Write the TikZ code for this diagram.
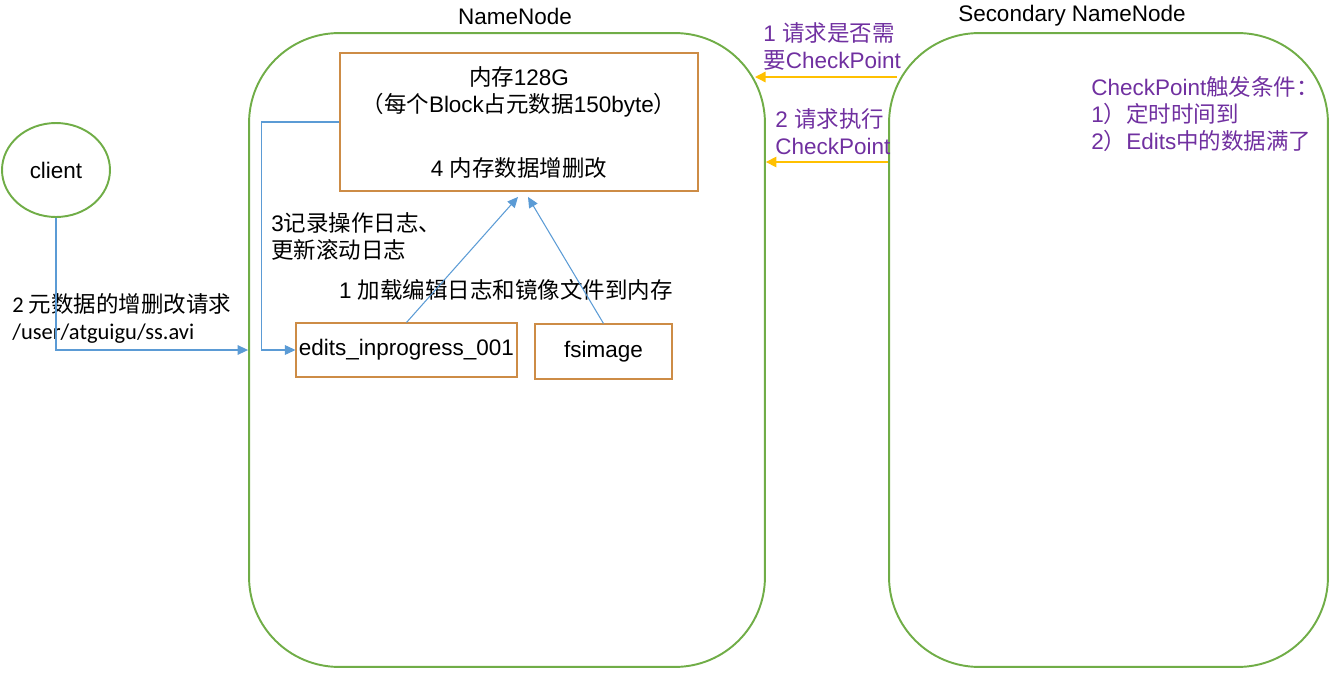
\documentclass[tikz,border=0pt]{standalone}
\usepackage{fontspec}
\setmainfont{Liberation Sans}
\newfontfamily\cjk{Noto Sans CJK SC}
\newfontfamily\cali{Carlito}
\newcommand\zh[1]{{\cjk #1}}
\usetikzlibrary{arrows.meta,shapes.geometric}
\definecolor{nodegreen}{RGB}{112,173,71}
\definecolor{boxorange}{RGB}{205,140,70}
\definecolor{linkblue}{RGB}{91,155,213}
\definecolor{askyellow}{RGB}{255,192,0}
\definecolor{notepurple}{RGB}{112,48,160}
\begin{document}
\begin{tikzpicture}[x=0.02cm,y=-0.02cm,
    font=\fontsize{12.8}{15.4}\selectfont,
    server/.style={draw=nodegreen,line width=1.1pt,rounded corners=1.8cm,
      minimum width=#1,minimum height=12.68cm},
    filebox/.style={draw=boxorange,line width=0.6pt,inner sep=1pt},
    link/.style={draw=linkblue,line width=0.6pt,-{Triangle[length=6pt,width=5.5pt]}},
    ask/.style={draw=askyellow,line width=0.8pt,-{Triangle[length=6pt,width=6pt]}},
    tag/.style={align=left,anchor=west,inner sep=0pt},
    note/.style={tag,text=notepurple}]
  \useasboundingbox (0,0) rectangle (1340,673);
  % two servers
  \node[server=10.32cm] (nn) at (507,350) {};
  \node[server=8.78cm] (snn) at (1108.5,350) {};
  \node (nntitle) at (515,16) {NameNode};
  \node (snntitle) at (1072,16) {Secondary NameNode};
  \node[draw=nodegreen,line width=1.1pt,ellipse,minimum width=2.16cm,minimum height=1.88cm] (client) at (56,170) {client};
  \node[draw=boxorange,line width=1.1pt,minimum width=7.16cm,minimum height=2.76cm,align=center] (mem) at (519,122)
    {\zh{内存}128G\\\zh{（每个}Block\zh{占元数据}150byte\zh{）}\\[21pt]4 \zh{内存数据增删改}};
  \node[filebox,minimum width=4.42cm,minimum height=1.08cm] (edits) at (406.5,350) {edits\_inprogress\_001};
  \node[filebox,minimum width=2.74cm,minimum height=1.1cm] (fsimage) at (603.5,351.5) {fsimage};
  % labels
  \node[tag,font=\fontsize{12.8}{15.4}\cali] (reqtag) at (12,318.5) {2 \zh{元数据的增删改请求}\\/user/atguigu/ss.avi};
  \node[tag] (logtag) at (271,236) {3\zh{记录操作日志、}\\\zh{更新滚动日志}};
  \node (loadtag) at (506,290) {1 \zh{加载编辑日志和镜像文件到内存}};
  \node[note] (asktag) at (763,46.5) {1 \zh{请求是否需}\\\zh{要}CheckPoint};
  \node[note] (runtag) at (775,131.5) {2 \zh{请求执行}\\CheckPoint};
  \node[note] (condtag) at (1091,114) {CheckPoint\zh{触发条件：}\\1\zh{）定时时间到}\\2\zh{）}Edits\zh{中的数据满了}};
  % connectors
  \draw[link] (client.south) |- (nn.west);
  \draw[link] (mem.west) -- ++(-78,0) |- (edits.west);
  \draw[link] (edits.north) -- ([xshift=-0.02cm,yshift=-0.1cm]mem.south);
  \draw[link] (fsimage.north) -- ([xshift=0.18cm,yshift=-0.1cm]mem.south);
  \coordinate (askfrom) at (897,77);
  \coordinate (askto) at (755,77);
  \draw[ask] (askfrom) -- (askto);
  \draw[ask] (snn.west |- 0,162) -- (nn.east |- 0,162);
\end{tikzpicture}
\end{document}
